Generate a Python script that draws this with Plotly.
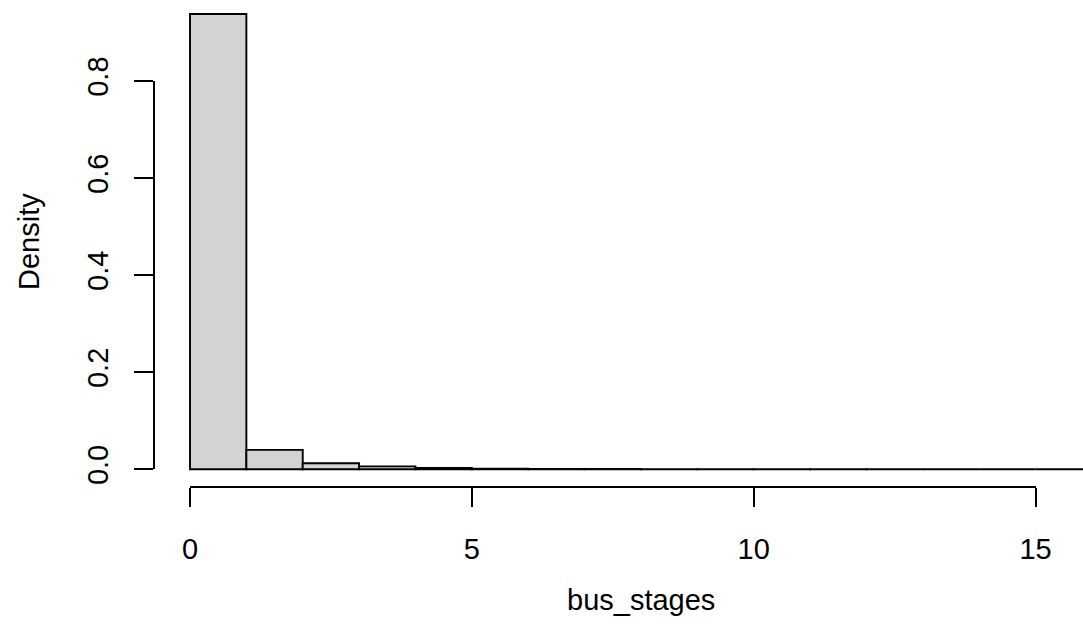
import plotly.graph_objects as go

# Histogram of bus_stages (density scale), unit-width bins from 0 to 16
bin_edges = list(range(0, 17))
density = [0.938, 0.040, 0.0124, 0.0060, 0.0030, 0.0012, 0.0008, 0.0006, 0.0004,
           0.00004, 0.00003, 0.00002, 0.00002, 0.00001, 0.00001, 0.00001]
x_ticks = [0, 5, 10, 15]
y_ticks = [0.0, 0.2, 0.4, 0.6, 0.8]

W, H = 1083, 641
FONT = "Liberation Sans, Arial, Helvetica, sans-serif"
FS = 29

# pixel geometry of the data region
x0_px, x_scale = 190.0, 56.37      # px of x=0, px per unit
y0_px, y_scale = 469.3, 485.4      # px of y=0, px per unit
xaxis_px = 487.3                   # x axis line (offset below bars)
yaxis_px = 154.0                   # y axis line (offset left of bars)

centers = [(a + b) / 2 for a, b in zip(bin_edges[:-1], bin_edges[1:])]
widths = [b - a for a, b in zip(bin_edges[:-1], bin_edges[1:])]

fig = go.Figure()
fig.add_trace(go.Bar(
    x=centers, y=density, width=widths,
    marker=dict(color="#D3D3D3", line=dict(color="black", width=1.9)),
    hoverinfo="skip", showlegend=False,
))
# carrier trace for the standalone R-style axes
fig.add_trace(go.Scatter(x=[None], y=[None], xaxis="x2", yaxis="y2",
                         mode="markers", showlegend=False, hoverinfo="skip"))

fig.update_layout(
    width=W, height=H, autosize=False,
    margin=dict(l=0, r=0, t=0, b=0, pad=0, autoexpand=False),
    paper_bgcolor="white", plot_bgcolor="rgba(0,0,0,0)",
    font=dict(family=FONT, size=FS, color="black"),
    xaxis=dict(visible=False, domain=[0, 1], fixedrange=True, automargin=False,
               range=[-x0_px / x_scale, (W - x0_px) / x_scale]),
    yaxis=dict(visible=False, domain=[0, 1], fixedrange=True, automargin=False,
               range=[-(H - y0_px) / y_scale, y0_px / y_scale]),
    xaxis2=dict(
        domain=[x0_px / W, (x0_px + 15 * x_scale) / W], automargin=False,
        range=[0, 15], anchor="free", position=(H - xaxis_px) / H,
        showline=True, linecolor="black", linewidth=1.8,
        ticks="outside", ticklen=19, tickwidth=1.8, tickcolor="black",
        tickvals=x_ticks, ticktext=[str(v) for v in x_ticks],
        ticklabelstandoff=17, showgrid=False, zeroline=False,
        tickfont=dict(family=FONT, size=FS, color="black"),
    ),
    yaxis2=dict(
        domain=[(H - y0_px) / H, (H - (y0_px - 0.8 * y_scale)) / H], automargin=False,
        range=[0, 0.8], anchor="free", position=yaxis_px / W,
        showline=True, linecolor="black", linewidth=1.8,
        ticks="outside", ticklen=19.5, tickwidth=1.8, tickcolor="black",
        tickvals=y_ticks, ticktext=[f"{v:.1f}" for v in y_ticks],
        tickangle=-90, ticklabelstandoff=14, showgrid=False, zeroline=False,
        tickfont=dict(family=FONT, size=FS, color="black"),
    ),
    annotations=[
        dict(text="bus_stages", xref="paper", yref="paper",
             x=641 / W, y=(H - 600) / H, xanchor="center", yanchor="middle",
             showarrow=False, font=dict(family=FONT, size=FS, color="black")),
        dict(text="Density", xref="paper", yref="paper",
             x=29 / W, y=(H - 242) / H, xanchor="center", yanchor="middle",
             textangle=-90, showarrow=False,
             font=dict(family=FONT, size=FS, color="black")),
    ],
)

fig.write_html("out.html", config={"responsive": False})
